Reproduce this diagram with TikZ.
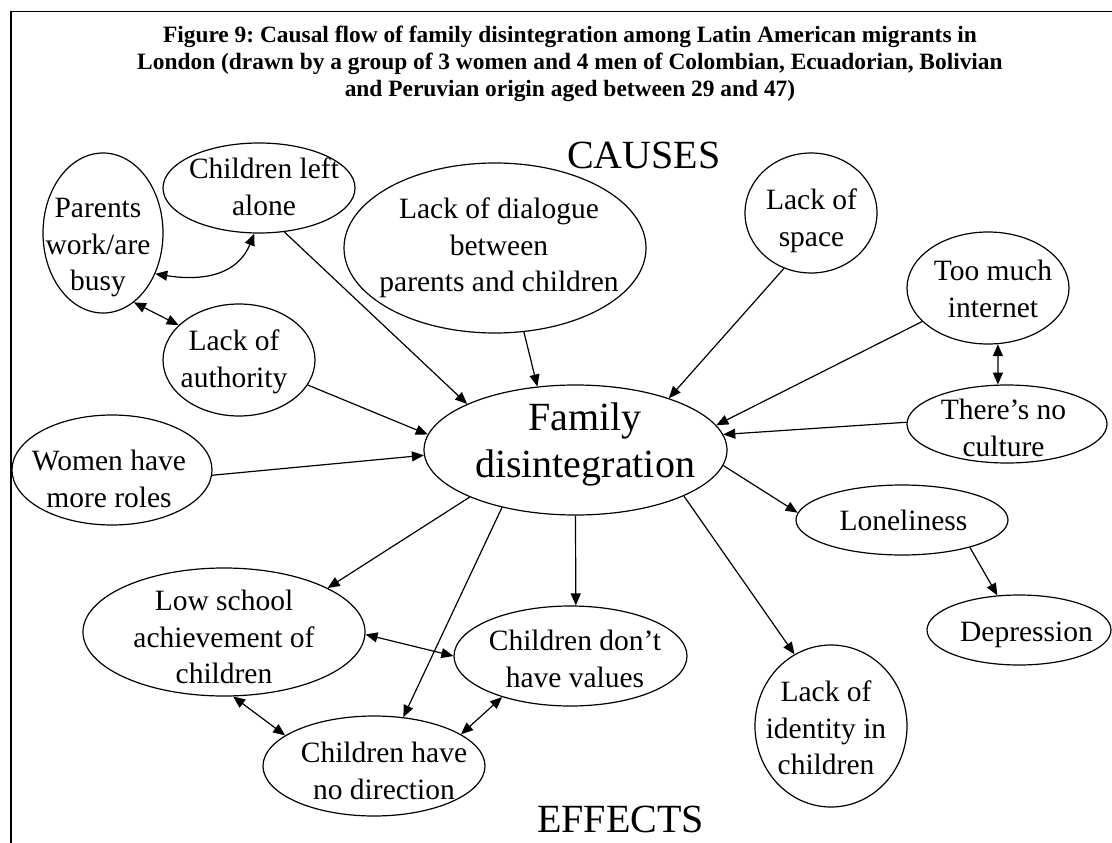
\documentclass[tikz,border=0pt]{standalone}
\usepackage{fontspec}
\setmainfont{Liberation Serif}
\usetikzlibrary{arrows.meta,shapes.geometric}
\frenchspacing
\tikzset{
  bub/.style={draw, ellipse, line width=1.2pt, inner sep=0pt},
  lbl/.style={align=center, inner sep=0pt, anchor=north, font=\fontsize{29.5}{36.5}\selectfont},
  big/.style={inner sep=0pt, font=\fontsize{40}{47}\selectfont},
  con/.style={line width=1.2pt, -{Triangle[length=12pt,width=10pt]}},
  bicon/.style={line width=1.2pt, {Triangle[length=12pt,width=10pt]}-{Triangle[length=12pt,width=10pt]}},
}
\begin{document}
\begin{tikzpicture}[x=1pt,y=-1pt]
\useasboundingbox (0,0) rectangle (1112,843);
\draw[line width=1.5pt] (11,843) -- (11,11.5) -- (1112,11.5);

\node[align=center, inner sep=0pt, anchor=north, font=\bfseries\fontsize{23.4}{27}\selectfont] (title) at (570,26)
 {Figure 9: Causal flow of family disintegration among Latin American migrants in\\
  London (drawn by a group of 3 women and 4 men of Colombian, Ecuadorian, Bolivian\\
  and Peruvian origin aged between 29 and 47)};

\node[big, anchor=base] (causes) at (644,168) {CAUSES};
\node[big, anchor=base] (effects) at (620.5,832) {EFFECTS};

% ellipses
\node[bub, minimum width=120pt, minimum height=160pt] (pw) at (103,233) {};
\node[bub, minimum width=192pt, minimum height=90pt] (cla) at (259,188) {};
\node[bub, minimum width=302pt, minimum height=170pt] (ld) at (495,248) {};
\node[bub, minimum width=132pt, minimum height=120pt] (ls) at (811,213) {};
\node[bub, minimum width=162pt, minimum height=112pt] (tmi) at (988,288) {};
\node[bub, minimum width=200pt, minimum height=78pt] (nc) at (1007,424) {};
\node[bub, minimum width=152pt, minimum height=112pt] (la) at (239,360) {};
\node[bub, minimum width=200pt, minimum height=110pt] (wm) at (112,470) {};
\node[bub, minimum width=303pt, minimum height=130pt] (fam) at (575.5,450) {};
\node[bub, minimum width=212pt, minimum height=70pt] (lon) at (902,520) {};
\node[bub, minimum width=184pt, minimum height=70pt] (dep) at (1019,630) {};
\node[bub, minimum width=152pt, minimum height=162pt] (lid) at (831,726) {};
\node[bub, minimum width=282pt, minimum height=128pt] (lsa) at (224,632) {};
\node[bub, minimum width=233pt, minimum height=100pt] (cdv) at (570.5,656) {};
\node[bub, minimum width=222pt, minimum height=100pt] (cnd) at (374,766) {};

% texts
\node[lbl] (pwt) at (98,198) {Parents\\work/are\\busy};
\node[lbl] (clat) at (264,158) {Children left\\alone};
\node[lbl] (ldt) at (499,198) {Lack of dialogue\\between\\parents and children};
\node[lbl] (lst) at (811.5,189) {Lack of\\space};
\node[lbl] (tmit) at (993,260) {Too much\\internet};
\node[lbl] (nct) at (1003.5,399) {There’s no\\culture};
\node[lbl] (lat) at (234,330) {Lack of\\authority};
\node[lbl] (wmt) at (109,450) {Women have\\more roles};
\node[big, align=center, anchor=north] (famt) at (585,403) {Family\\disintegration};
\node[lbl] (lont) at (903.5,510) {Loneliness};
\node[lbl] (dept) at (1026.5,622) {Depression};
\node[lbl] (lidt) at (826,681) {Lack of\\identity in\\children};
\node[lbl] (lsat) at (224,590) {Low school\\achievement of\\children};
\node[lbl] (cdvt) at (575,630) {Children don’t\\have values};
\node[lbl] (cndt) at (384,742) {Children have\\no direction};

% connectors
\draw[bicon] (pw.-38) .. controls +(50,8) and +(-16,40) .. (cla.-96);
\draw[bicon] (pw.-66) -- (la.150);
\draw[con] (cla.-60) -- (fam.157);
\draw[con] (ld.-71) -- (fam.121);
\draw[con] (ls.-116) -- (fam.29);
\draw[con] (tmi.-153) -- (fam.10);
\draw[bicon] (tmi.-80) -- (nc.103);
\draw[con] (nc.179) -- (fam.6);
\draw[con] (la.-20) -- (fam.174);
\draw[con] (wm.-3) -- (fam.182);
\draw[con] (fam.-6) -- (lon.176);
\draw[con] (lon.-22) -- (dep.122);
\draw[con] (fam.-23) -- (lid.117);
\draw[con] (fam.-90) -- (cdv.84);
\draw[con] (fam.204) -- (lsa.23);
\draw[con] (fam.218) -- (cnd.59);
\draw[bicon] (lsa.-1) -- (cdv.180);
\draw[bicon] (lsa.-82) -- (cnd.161);
\draw[bicon] (cdv.211) -- (cnd.20);
\end{tikzpicture}
\end{document}
